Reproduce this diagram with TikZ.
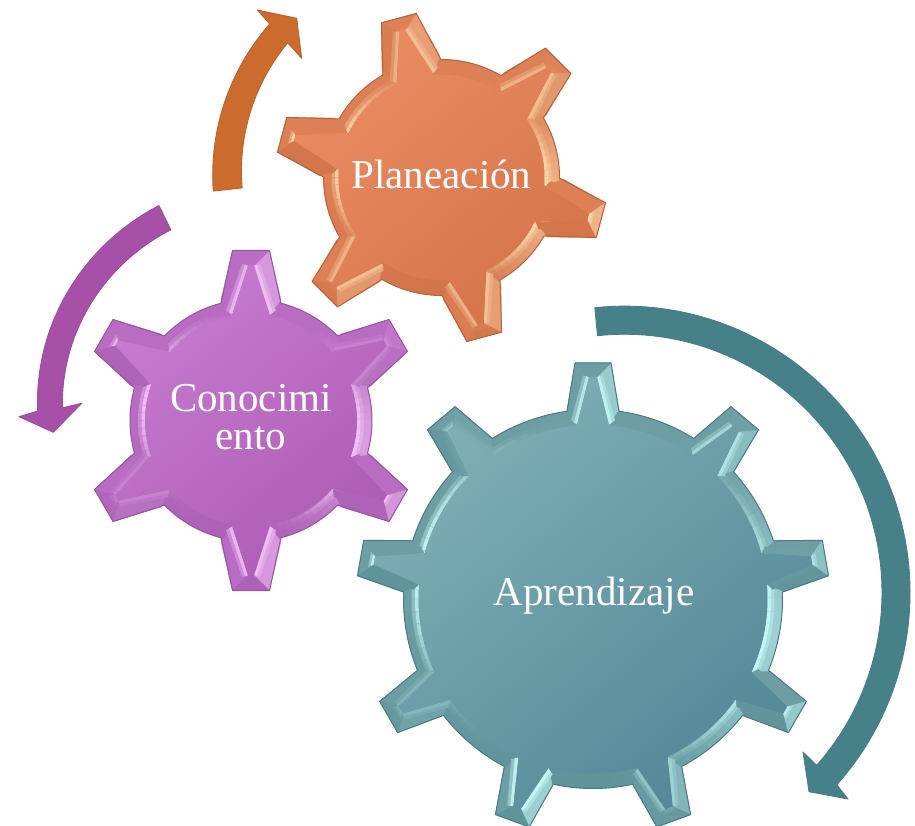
\documentclass[tikz,border=0pt]{standalone}
\usepackage{fontspec}
\setmainfont{Liberation Serif}
\tikzset{
  declare function={px(\r,\t,\a)=\r*cos(\a)-\t*sin(\a); py(\r,\t,\a)=\r*sin(\a)+\t*cos(\a);},
  geartext/.style={text=white,anchor=base,font=\fontsize{41}{41}\selectfont,inner sep=0pt},
  blockarrow/.style={line width=0.9pt,line join=round}
}
% colour for a facet whose outward normal points at angle #1
\newcommand{\setfacet}[1]{%
  \pgfmathsetmacro\fcc{cos(#1+15)}%
  \pgfmathsetmacro\fss{sin(#1)}%
  \pgfmathsetmacro\wD{max(-\fss,0)*40}%
  \colorlet{fb}{gD!\wD!gM}%
  \pgfmathsetmacro\wA{max(\fcc,0)*max(\fcc,0)*max(\fcc,0)*max(\fcc,0)*55}%
  \colorlet{fa}{gL!\wA!fb}%
  \pgfmathsetmacro\wB{\fcc*\fcc*\fcc*\fcc*40}%
  \colorlet{fsa}{gL!\wB!fa}%
  \pgfmathsetmacro\wC{\fcc*\fcc*\fcc*\fcc*90}%
  \colorlet{fsb}{gL!\wC!fa}%
}
% gear-shaped closed path: style, body radius, tip radius, base half width, tip half width
\newcommand{\gearpoly}[5]{%
  \pgfmathsetmacro\dd{asin(#4/#2)}%
  \path[#1] ({\gP-\dd}:#2)
    \foreach \k [evaluate=\k as \a using \gP+\k*360/\gN] in {0,...,\gLast} {
      -- ({px(#3,-#5,\a)},{py(#3,-#5,\a)})
      -- ({px(#3,#5,\a)},{py(#3,#5,\a)})
      -- ({\a+\dd}:#2)
      arc[start angle=\a+\dd,end angle=\a+360/\gN-\dd,radius=#2]
    } -- cycle;%
}
% cx cy R Rt wb wt fw ew Ea n phase
\newcommand{\gear}[9]{%
  \begin{scope}[shift={(#1,#2)}]
  \def\gR{#3}\def\gT{#4}\def\gWb{#5}\def\gWt{#6}\def\gFw{#7}\def\gEw{#8}\def\gEa{#9}%
  \gearrest
}
\newcommand{\gearrest}[2]{%
  \def\gN{#1}\def\gP{#2}%
  \pgfmathtruncatemacro\gLast{#1-1}%
  \pgfmathsetmacro\gRi{\gR-15}%
  \gearpoly{fill=gM}{\gR}{\gT}{\gWb}{\gWt}%
  % ring
  \foreach \t in {0,4,...,356} {
    \setfacet{\t}
    \draw[draw=fa,line width=15pt] (\t:\gRi+7.5) arc[start angle=\t,delta angle=4.4,radius=\gRi+7.5];
    \draw[draw=fsa,line width=7pt] (\t:\gRi+3.5) arc[start angle=\t,delta angle=4.4,radius=\gRi+3.5];
    \draw[draw=fsb,line width=3.5pt] (\t:\gRi+1.75) arc[start angle=\t,delta angle=4.4,radius=\gRi+1.75];
  }
  % teeth
  \foreach \k [evaluate=\k as \a using \gP+\k*360/\gN] in {0,...,\gLast} {
    \begin{scope}[rotate=\a]
    % + flank
    \pgfmathsetmacro\nn{\a+90}\setfacet{\nn}
    \path[fill=fa,draw=fa,line width=.2pt] (\gR,\gWb)--(\gT,\gWt)--(\gEa,\gEw)--(\gRi,\gFw)--cycle;
    \path[fill=fsa] (\gRi,\gFw)--(\gEa,\gEw)--(\gEa+1.5,\gEw+6)--(\gRi+4,\gFw+6)--cycle;
    \path[fill=fsb] (\gRi,\gFw)--(\gEa,\gEw)--(\gEa+.7,\gEw+3)--(\gRi+2,\gFw+3)--cycle;
    % - flank
    \pgfmathsetmacro\nn{\a-90}\setfacet{\nn}
    \path[fill=fa,draw=fa,line width=.2pt] (\gR,-\gWb)--(\gT,-\gWt)--(\gEa,-\gEw)--(\gRi,-\gFw)--cycle;
    \path[fill=fsa] (\gRi,-\gFw)--(\gEa,-\gEw)--(\gEa+1.5,-\gEw-6)--(\gRi+4,-\gFw-6)--cycle;
    \path[fill=fsb] (\gRi,-\gFw)--(\gEa,-\gEw)--(\gEa+.7,-\gEw-3)--(\gRi+2,-\gFw-3)--cycle;
    % tip
    \pgfmathsetmacro\nn{\a}\setfacet{\nn}
    \path[fill=fa,draw=fa,line width=.2pt] (\gT,\gWt)--(\gT,-\gWt)--(\gEa,-\gEw)--(\gEa,\gEw)--cycle;
    \path[fill=fsa] (\gEa,\gEw)--(\gEa,-\gEw)--(\gEa+5,-\gEw-4)--(\gEa+5,\gEw+4)--cycle;
    \path[fill=fsb] (\gEa,\gEw)--(\gEa,-\gEw)--(\gEa+2.5,-\gEw-2)--(\gEa+2.5,\gEw+2)--cycle;
    \end{scope}
  }
  % face
  \gearpoly{top color=gF,bottom color=gG,shading angle=40}{\gRi}{\gEa}{\gFw}{\gEw}%
  % edge
  \gearpoly{draw=gE,line width=1pt,line join=round}{\gR}{\gT}{\gWb}{\gWt}%
  \end{scope}%
}
\definecolor{arrO}{HTML}{CB6B2E}\definecolor{arrOe}{HTML}{B8652F}
\definecolor{arrP}{HTML}{A650A8}\definecolor{arrPe}{HTML}{96509C}
\definecolor{arrT}{HTML}{468089}\definecolor{arrTe}{HTML}{4A7F86}
\begin{document}
\begin{tikzpicture}[x=1pt,y=1pt]
\useasboundingbox (0,0) rectangle (915,825);
\fill[white] (0,0) rectangle (915,825);
% orange gear
\definecolor{gL}{HTML}{FFE0B4}\definecolor{gM}{HTML}{DD8055}\definecolor{gD}{HTML}{C2653A}
\definecolor{gF}{HTML}{EA8C63}\definecolor{gG}{HTML}{D5744A}\definecolor{gE}{HTML}{B4633C}
\gear{441.5}{647.5}{118}{165}{30}{18}{19}{3}{152}{6}{45}
% purple gear
\definecolor{gL}{HTML}{F6C6FA}\definecolor{gM}{HTML}{B86CC2}\definecolor{gD}{HTML}{9C4FA6}
\definecolor{gF}{HTML}{C67BD0}\definecolor{gG}{HTML}{AC5DB4}\definecolor{gE}{HTML}{96569E}
\gear{251}{404.5}{121}{170}{30}{18.5}{19}{3}{155}{6}{30}
% teal gear
\definecolor{gL}{HTML}{C8FBFB}\definecolor{gM}{HTML}{6C9EA4}\definecolor{gD}{HTML}{4C848C}
\definecolor{gF}{HTML}{7FB0B5}\definecolor{gG}{HTML}{548898}\definecolor{gE}{HTML}{4A7B82}
\gear{593}{226}{189.5}{236}{26}{18}{16}{4}{222}{9}{90}
\begin{scope}[y=-1pt,yshift=825pt]
% orange arrow
\path[blockarrow,fill=arrO,draw=arrOe]
  plot[domain=177.2:222.5,samples=30] ({440+(227+4*(\x-177.2)/45.3)*cos(\x)},{180+(227+4*(\x-177.2)/45.3)*sin(\x)})
  -- (257.3,10) -- (296.7,18.3) -- (301.7,58.3)
  -- plot[domain=222:177.7,samples=30] ({440+(198+7*(\x-177.7)/44.3)*cos(\x)},{180+(198+7*(\x-177.7)/44.3)*sin(\x)})
  -- cycle;
% purple arrow
\path[blockarrow,fill=arrP,draw=arrPe]
  plot[domain=247:182.4,samples=40] ({250+(212.5+20.5*(\x-182.4)/64.6)*cos(\x)},{420+(212.5+20.5*(\x-182.4)/64.6)*sin(\x)})
  -- (19,416.7) -- (53.3,432.3) -- (81.7,403.3)
  -- plot[domain=183.7:247.4,samples=40] ({250+(188+18*(\x-183.7)/63.7)*cos(\x)},{420+(188+18*(\x-183.7)/63.7)*sin(\x)})
  -- cycle;
% teal arrow
\path[blockarrow,fill=arrT,draw=arrTe]
  plot[domain=-95.5:42.2,samples=80] ({622+(283.6+6.4*(\x+95.5)/137.7)*cos(\x)},{590+(283.6+6.4*(\x+95.5)/137.7)*sin(\x)})
  -- (848,799) -- (809,791.7) -- (803,752)
  -- plot[domain=42:-95.5,samples=80] ({622+(255.5+6.5*(\x+95.5)/137.5)*cos(\x)},{590+(255.5+6.5*(\x+95.5)/137.5)*sin(\x)})
  -- cycle;
\node[geartext] (planeacion) at (441.5,189) {Planeación};
\node[geartext] (conoc1) at (251,411.7) {Conocimi};
\node[geartext] (conoc2) at (251,450) {ento};
\node[geartext] (aprend) at (594,605) {Aprendizaje};
\end{scope}
\end{tikzpicture}
\end{document}
